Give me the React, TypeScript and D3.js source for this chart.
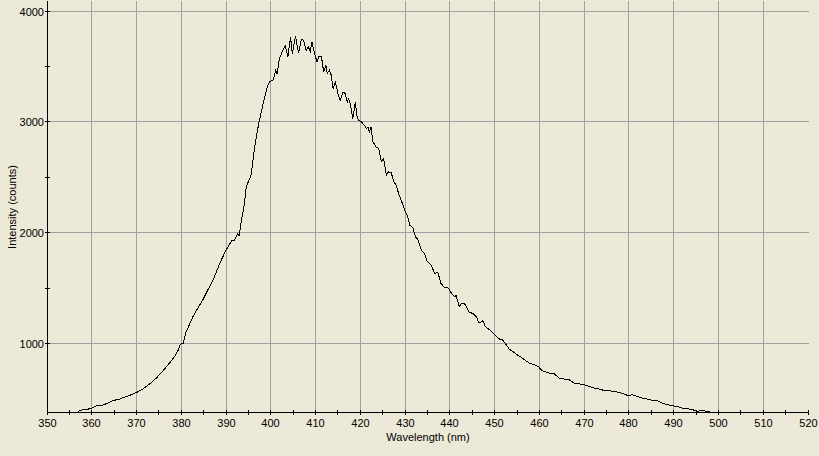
import React from "react";
import * as d3 from "d3";

const wavelengths = [
  356.9, 358.0, 359.2, 360.0, 361.0, 362.1, 363.6, 364.7, 366.2, 367.3, 368.8, 370.0,
  371.1, 372.2, 373.3, 374.4, 375.5, 376.7, 377.6, 378.5, 379.3, 379.8, 380.4, 381.1,
  381.8, 382.6, 383.7, 384.8, 386.0, 387.1, 388.6, 390.0, 391.2, 391.9, 392.6, 392.9,
  393.4, 394.1, 394.5, 395.6, 396.4, 397.3, 398.2, 399.3, 399.7, 400.5, 401.1, 401.4,
  401.9, 402.7, 403.2, 403.8, 404.4, 404.8, 405.5, 406.2, 406.8, 407.3, 407.9, 408.4,
  408.8, 409.2, 409.6, 410.3, 410.7, 411.3, 411.8, 412.3, 412.6, 413.1, 413.5, 413.9,
  414.4, 415.0, 415.5, 416.1, 416.6, 417.1, 417.4, 417.8, 418.3, 418.9, 419.2, 419.6,
  420.2, 420.9, 421.3, 421.7, 422.0, 422.4, 422.8, 423.5, 424.1, 424.7, 425.2, 425.8,
  426.3, 426.9, 427.5, 428.0, 428.6, 429.1, 429.9, 430.6, 431.0, 431.7, 432.3, 432.8,
  433.6, 434.3, 434.9, 435.8, 436.6, 437.3, 437.7, 438.0, 438.8, 439.5, 440.3, 441.0,
  441.4, 442.1, 442.5, 443.3, 444.4, 445.1, 445.9, 446.5, 447.4, 447.9, 448.9, 449.6,
  450.4, 451.1, 451.8, 452.6, 453.3, 454.2, 455.0, 455.8, 456.8, 457.8, 458.9, 459.8,
  460.4, 461.1, 462.2, 463.3, 464.5, 465.6, 466.7, 467.8, 468.9, 470.0, 471.2, 472.3,
  473.4, 474.5, 475.6, 476.7, 477.9, 479.0, 479.7, 480.8, 481.9, 483.0, 484.2, 485.3,
  486.4, 487.5, 488.7, 489.8, 490.9, 492.0, 493.1, 494.3, 495.0, 496.5, 498.0,
];

const intensities = [
  388, 403, 409, 418, 439, 441, 463, 486, 499, 517, 538, 559,
  583, 613, 649, 688, 735, 793, 835, 883, 940, 995, 1004, 1108,
  1170, 1243, 1320, 1394, 1490, 1574, 1724, 1844, 1925, 1934, 1995, 1970,
  2099, 2265, 2414, 2520, 2775, 2986, 3150, 3330, 3360, 3376, 3466, 3430,
  3571, 3646, 3690, 3586, 3766, 3616, 3772, 3622, 3742, 3736, 3646, 3676,
  3631, 3721, 3646, 3541, 3586, 3592, 3450, 3510, 3436, 3466, 3421, 3301,
  3360, 3256, 3195, 3270, 3256, 3180, 3211, 3150, 3030, 3180, 3060, 3015,
  3000, 2970, 2940, 2955, 2910, 2955, 2820, 2775, 2760, 2640, 2670, 2520,
  2550, 2540, 2459, 2430, 2345, 2295, 2205, 2144, 2069, 2049, 1964, 1941,
  1844, 1814, 1745, 1709, 1634, 1640, 1589, 1544, 1505, 1508, 1459, 1423,
  1432, 1333, 1358, 1358, 1279, 1274, 1243, 1184, 1207, 1153, 1123, 1099,
  1063, 1040, 1033, 988, 949, 925, 900, 880, 850, 823, 808, 793,
  763, 748, 733, 727, 688, 679, 673, 643, 637, 628, 613, 598,
  589, 577, 574, 568, 559, 544, 532, 538, 523, 508, 499, 486,
  484, 463, 448, 439, 432, 418, 412, 403, 390, 394, 388,
];

const xTickValues = d3.range(350, 521, 5);
const xLabelValues = d3.range(350, 521, 10);
const xGridValues = d3.range(360, 511, 10);
const yTickValues = d3.range(1000, 4001, 500);
const yLabelValues = [1000, 2000, 3000, 4000];

const xTitle = "Wavelength (nm)";
const yTitle = "Intensity (counts)";

const W = 819;
const H = 456;
const BG = "#ECE9D8";
const GRID = "#A0A0A0";
const FONT = "'Liberation Sans', Arial, sans-serif";

export default function App() {
  const x = d3.scaleLinear().domain([350, 520]).range([47, 808]);
  const y = d3.scaleLinear().domain([383, 4000]).range([412, 11]);
  const px = (v: number) => Math.floor(x(v)) + 0.5;
  const py = (v: number) => Math.floor(y(v)) + 0.5;

  const data = wavelengths.map((w, i) => [w, intensities[i]] as [number, number]);
  const line = d3
    .line<[number, number]>()
    .x((d) => x(d[0]))
    .y((d) => y(d[1]));

  const axisY = 412.5;
  const axisX = 47.5;

  return (
    <svg
      width={W}
      height={H}
      style={{ position: "absolute", left: 0, top: 0, display: "block" }}
    >
      <rect x={0} y={0} width={W} height={H} fill={BG} />
      <defs>
        <clipPath id="plotClip">
          <rect x={47} y={0} width={762} height={413} />
        </clipPath>
      </defs>
      {/* grid */}
      <g stroke={GRID} strokeWidth={1} shapeRendering="crispEdges">
        {xGridValues.map((v) => (
          <line key={"gx" + v} x1={px(v)} x2={px(v)} y1={1} y2={412} />
        ))}
        {yLabelValues.map((v) => (
          <line key={"gy" + v} x1={48} x2={809} y1={py(v)} y2={py(v)} />
        ))}
      </g>
      {/* curve */}
      <path
        d={line(data) || ""}
        fill="none"
        stroke="#000"
        strokeWidth={1}
        shapeRendering="crispEdges"
        clipPath="url(#plotClip)"
      />
      {/* axes */}
      <g stroke="#000" strokeWidth={1} shapeRendering="crispEdges">
        <line x1={axisX} x2={axisX} y1={1} y2={413} />
        <line x1={47} x2={809} y1={axisY} y2={axisY} />
        {xTickValues.map((v) => (
          <line key={"tx" + v} x1={px(v)} x2={px(v)} y1={410} y2={415} />
        ))}
        {yTickValues.map((v) => (
          <line key={"ty" + v} x1={45} x2={50} y1={py(v)} y2={py(v)} />
        ))}
      </g>
      <g fontFamily={FONT} fontSize={11} fill="#000">
        {xLabelValues.map((v) => (
          <text key={"lx" + v} x={px(v)} y={427} textAnchor="middle">
            {v}
          </text>
        ))}
        {yLabelValues.map((v) => (
          <text key={"ly" + v} x={44} y={py(v) + 4.5} textAnchor="end">
            {v}
          </text>
        ))}
        <text x={428} y={441} textAnchor="middle">
          {xTitle}
        </text>
        <text
          transform={`translate(16,207) rotate(-90)`}
          textAnchor="middle"
        >
          {yTitle}
        </text>
      </g>
    </svg>
  );
}
